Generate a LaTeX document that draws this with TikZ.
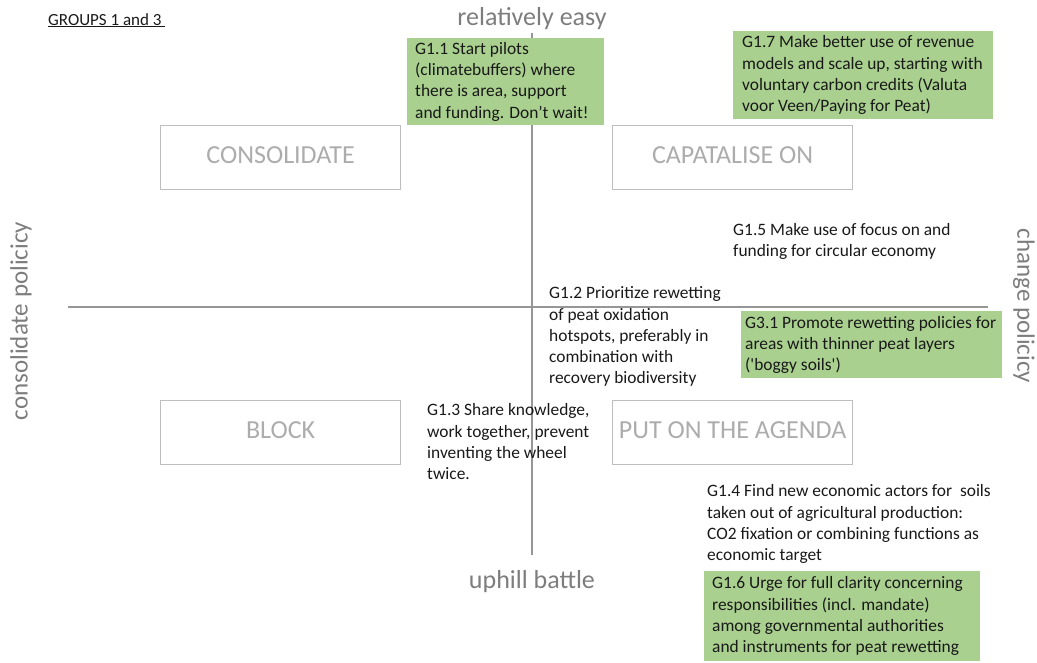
\documentclass[tikz,border=0pt]{standalone}
\usepackage{fontspec}
\setmainfont{Carlito}
\newcommand\straightq{\XeTeXglyph\XeTeXcharglyph"27\relax}
\definecolor{pgreen}{RGB}{169,208,142}
\definecolor{axisgray}{RGB}{150,150,150}
\definecolor{boxgray}{RGB}{190,190,190}
\definecolor{labgray}{RGB}{172,172,172}
\definecolor{axlabgray}{RGB}{125,125,125}
\definecolor{txt}{RGB}{25,25,25}
\begin{document}
\begin{tikzpicture}[x=1pt,y=-1pt,
  quad/.style={draw=boxgray, line width=1.2pt, minimum width=240pt, minimum height=64pt,
    anchor=north west, text=labgray, font=\fontsize{26}{30}\selectfont, text depth=5pt, inner sep=0pt},
  axlab/.style={text=axlabgray, font=\fontsize{26}{30}\selectfont, inner sep=0pt},
  note/.style={align=left, inner sep=0pt, text=txt, font=\fontsize{17.4}{21.2}\selectfont},
  gbox/.style={fill=pgreen, draw=none, anchor=north west, inner sep=0pt},
  axis/.style={draw=axisgray, line width=1.2pt}
]
\useasboundingbox (0,0) rectangle (1037,662);

% title
\node[anchor=base west, inner sep=0pt, text=txt, font=\fontsize{17}{20}\selectfont] (title) at (48,25) {\underline{GROUPS 1 and 3\ }};

% axes
\coordinate (vtop) at (532,33);
\coordinate (vbot) at (532,555);
\coordinate (hl) at (68,307);
\coordinate (hr) at (988,307);
\draw[axis] (vtop) -- (vbot);
\draw[axis] (hl) -- (hr);

% axis labels
\node[axlab, anchor=base] (easy) at (532,25) {relatively easy};
\node[axlab, anchor=base] (uphill) at (532,588) {uphill battle};
\node[axlab, font=\fontsize{25}{30}\selectfont, rotate=90] (cons) at (21,321) {consolidate policicy};
\node[axlab, font=\fontsize{25}{30}\selectfont, rotate=-90] (change) at (1024,306) {change policicy};

% quadrant boxes
\node[quad] (consolidate) at (160,125) {CONSOLIDATE};
\node[quad] (capatalise) at (612,125) {CAPATALISE ON};
\node[quad] (block) at (160,400) {BLOCK};
\node[quad] (agenda) at (612,400) {PUT ON THE AGENDA};

% green boxes
\node[gbox, minimum width=197pt, minimum height=87pt] (g11box) at (407,38) {};
\node[note, anchor=west] (g11) at ([xshift=8pt]g11box.west) {G1.1 Start pilots\\(climatebuffers) where\\there is area, support\\and funding. Don’t wait!};

\node[gbox, minimum width=260pt, minimum height=88pt] (g17box) at (733,31) {};
\node[note, anchor=west] (g17) at ([xshift=9pt]g17box.west) {G1.7 Make better use of revenue\\models and scale up, starting with\\voluntary carbon credits (Valuta\\voor Veen/Paying for Peat)};

\node[gbox, minimum width=261pt, minimum height=67pt] (g31box) at (741,311) {};
\node[note, anchor=west] (g31) at ([xshift=4pt]g31box.west) {G3.1 Promote rewetting policies for\\areas with thinner peat layers\\(\straightq boggy soils\straightq)};

\node[gbox, minimum width=276pt, minimum height=90pt] (g16box) at (704,571) {};
\node[note, anchor=west] (g16) at ([xshift=8pt]g16box.west) {G1.6 Urge for full clarity concerning\\responsibilities (incl. mandate)\\among governmental authorities\\and instruments for peat rewetting};

% plain notes
\node[note, anchor=north west] (g15) at (733,223) {G1.5 Make use of focus on and\\funding for circular economy};
\node[note, anchor=north west] (g12) at (549,286.6) {G1.2 Prioritize rewetting\\of peat oxidation\\hotspots, preferably in\\combination with\\recovery biodiversity};
\node[note, anchor=north west] (g13) at (427,403.6) {G1.3 Share knowledge,\\work together, prevent\\inventing the wheel\\twice.};
\node[note, anchor=north west] (g14) at (707,484.6) {G1.4 Find new economic actors for\ \ soils\\taken out of agricultural production:\\CO2 fixation or combining functions as\\economic target};
\end{tikzpicture}
\end{document}
